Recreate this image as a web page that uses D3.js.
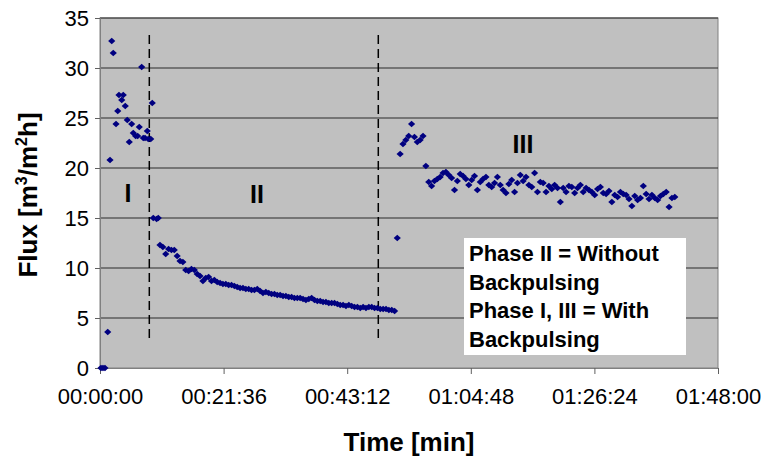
<!DOCTYPE html>
<html>
<head>
<meta charset="utf-8">
<script src="https://cdn.jsdelivr.net/npm/d3@7"></script>
<style>
  body { margin: 0; background: #fff; }
  text { font-family: Arial, "Liberation Sans", sans-serif; }
</style>
</head>
<body>
<svg id="chart"></svg>
<script>
// time in seconds, flux in m3/m2h
const phase1Time = [10, 31, 52, 81, 105, 123, 139, 168, 186, 199, 228, 244, 265, 286, 307,
    332, 349, 374, 395, 412, 437, 454, 472, 496, 506, 532, 548, 559, 594, 611];
const phase1Flux = [0, 0, 0, 3.6, 20.8, 32.7, 31.5, 24.4, 25.7, 27.3, 26.8, 27.3, 26.2, 24.8, 22.6,
    24.4, 23.5, 23.2, 23.2, 24.1, 30.1, 23.0, 23.0, 23.7, 22.9, 22.9, 26.5, 15.0, 14.9, 15.0];

// logged every 30 s
const phase2Start = 629;
const phase2Flux = [12.3, 12.1, 11.4, 11.9, 11.8, 11.8, 11.2, 10.7, 10.6, 9.8, 9.7, 9.9, 9.8, 9.4,
    9.2, 8.7, 9.0, 9.1, 8.7, 8.8, 8.6, 8.5, 8.4, 8.4, 8.3, 8.3, 8.2, 8.1, 8.0, 8.0, 7.9, 7.9, 7.8,
    7.8, 7.9, 7.7, 7.5, 7.6, 7.5, 7.4, 7.4, 7.3, 7.3, 7.2, 7.2, 7.1, 7.1, 7.0, 7.0, 7.0, 6.9, 6.8,
    6.9, 7.0, 6.8, 6.7, 6.7, 6.6, 6.6, 6.5, 6.5, 6.5, 6.4, 6.3, 6.3, 6.2, 6.3, 6.2, 6.1, 6.1, 6.0,
    6.1, 6.0, 6.1, 6.1, 6.0, 6.0, 5.9, 5.9, 5.9, 5.8, 5.8, 5.7];

const phase3Start = 3117;
const phase3Flux = [13.0, 21.4, 22.4, 22.8, 23.2, 24.4, 23.1, 22.6, 22.8, 23.2, 20.2, 18.6, 18.2,
    18.7, 18.9, 19.1, 19.5, 19.6, 19.3, 19.0, 17.8, 18.7, 19.4, 19.2, 18.9, 18.3, 18.8, 19.2, 17.8,
    18.6, 18.9, 19.1, 18.3, 18.1, 18.5, 19.1, 18.3, 17.8, 17.5, 18.4, 18.8, 17.6, 18.5, 19.3, 18.7,
    19.1, 18.3, 18.1, 19.5, 17.6, 18.6, 18.5, 17.6, 18.2, 17.9, 18.3, 18.0, 16.6, 18.0, 17.6, 18.2,
    18.1, 17.5, 18.0, 18.3, 17.6, 18.0, 17.8, 17.6, 17.3, 17.9, 18.1, 17.5, 17.4, 17.7, 16.6, 17.3,
    17.1, 17.6, 17.4, 17.3, 16.9, 16.2, 17.2, 16.8, 17.0, 18.2, 17.4, 16.9, 17.3, 17.0, 16.8, 17.2,
    17.4, 17.6, 16.1, 17.0, 17.1];
const logStep = 30;

const phaseBounds = [517, 2918];   // backpulsing switched off / on
const boundFlux = [3.0, 33.6];
const phaseNames = ["I", "II", "III"];
const phaseNameTime = [294, 1646, 4435];
const phaseNameFlux = [16.6, 16.5, 21.5];

const xTicks = [0, 1296, 2592, 3888, 5184, 6480];
const yTicks = [0, 5, 10, 15, 20, 25, 30, 35];
const noteLines = ["Phase II = Without", "Backpulsing", "Phase I, III = With", "Backpulsing"];

let points = [];
phase1Time.forEach((t, i) => points.push({ t: t, flux: phase1Flux[i] }));
phase2Flux.forEach((f, i) => points.push({ t: phase2Start + i * logStep, flux: f }));
phase3Flux.forEach((f, i) => points.push({ t: phase3Start + i * logStep, flux: f }));

const width = 766, height = 461;
const plot = { left: 100, right: 718, top: 18, bottom: 368 };

const svg = d3.select("#chart").attr("width", width).attr("height", height);

const xScale = d3.scaleLinear().domain([0, 6480]).range([plot.left, plot.right]);
const yScale = d3.scaleLinear().domain([0, 35]).range([plot.bottom, plot.top]);

const fmtTime = (s) => {
    const pad = (n) => String(n).padStart(2, "0");
    return pad(Math.floor(s / 3600)) + ":" + pad(Math.floor(s % 3600 / 60)) + ":" + pad(s % 60);
};

svg.append("rect")
    .attr("x", plot.left).attr("y", plot.top)
    .attr("width", plot.right - plot.left).attr("height", plot.bottom - plot.top)
    .attr("fill", "#c0c0c0")
    .attr("stroke", "#808080");

// gridlines
svg.append("g")
    .selectAll("line")
    .data(yTicks.filter((v) => v > 0))
    .enter().append("line")
        .attr("x1", plot.left).attr("x2", plot.right)
        .attr("y1", (v) => yScale(v)).attr("y2", (v) => yScale(v))
        .attr("stroke", "#2a2a2a").attr("stroke-width", 1);

// axes
let yAxis = d3.axisLeft(yScale).tickValues(yTicks).tickSize(5).tickPadding(6);
let yAxisGroup = svg.append("g").attr("transform", `translate(${plot.left},0)`).call(yAxis);
let xAxis = d3.axisBottom(xScale).tickValues(xTicks).tickSize(6).tickPadding(14).tickFormat(fmtTime);
let xAxisGroup = svg.append("g").attr("transform", `translate(0,${plot.bottom})`).call(xAxis);

[yAxisGroup, xAxisGroup].forEach((g) => {
    g.select(".domain").attr("stroke", "#808080");
    g.selectAll(".tick line").attr("stroke", "#606060");
    g.selectAll(".tick text")
        .attr("fill", "#000")
        .style("font-size", "22px")
        .style("font-family", "Arial, 'Liberation Sans', sans-serif");
});

// phase boundaries
svg.append("g")
    .selectAll("line")
    .data(phaseBounds)
    .enter().append("line")
        .attr("x1", (t) => xScale(t)).attr("x2", (t) => xScale(t))
        .attr("y1", yScale(boundFlux[0])).attr("y2", yScale(boundFlux[1]))
        .attr("stroke", "#000").attr("stroke-width", 1.5)
        .attr("stroke-dasharray", "9,5");

// data points
svg.append("g")
    .selectAll("path")
    .data(points)
    .enter().append("path")
        .attr("d", "M0,-3.2L3.6,0L0,3.2L-3.6,0Z")
        .attr("transform", (d) => `translate(${xScale(d.t)},${yScale(d.flux)})`)
        .attr("fill", "#000080");

// phase names
svg.append("g")
    .selectAll("text")
    .data(phaseNames)
    .enter().append("text")
        .attr("x", (d, i) => xScale(phaseNameTime[i]))
        .attr("y", (d, i) => yScale(phaseNameFlux[i]))
        .attr("text-anchor", "middle")
        .style("font-size", "25px").style("font-weight", "bold")
        .text((d) => d);

// note box
let note = svg.append("g");
note.append("rect")
    .attr("x", 464).attr("y", 238)
    .attr("width", 222).attr("height", 117)
    .attr("fill", "#fff");
note.selectAll("text")
    .data(noteLines)
    .enter().append("text")
        .attr("x", 469)
        .attr("y", (d, i) => 261 + i * 28.5)
        .style("font-size", "22px").style("font-weight", "bold")
        .text((d) => d);

// axis titles
svg.append("text")
    .attr("x", (plot.left + plot.right) / 2)
    .attr("y", 451)
    .attr("text-anchor", "middle")
    .style("font-size", "26px").style("font-weight", "bold")
    .text("Time [min]");

let yTitle = svg.append("text")
    .attr("transform", `translate(37,195) rotate(-90)`)
    .attr("text-anchor", "middle")
    .style("font-size", "26px").style("font-weight", "bold");
yTitle.append("tspan").text("Flux [m");
yTitle.append("tspan").attr("dy", -10).style("font-size", "16px").text("3");
yTitle.append("tspan").attr("dy", 10).text("/m");
yTitle.append("tspan").attr("dy", -10).style("font-size", "16px").text("2");
yTitle.append("tspan").attr("dy", 10).text("h]");
</script>
</body>
</html>
